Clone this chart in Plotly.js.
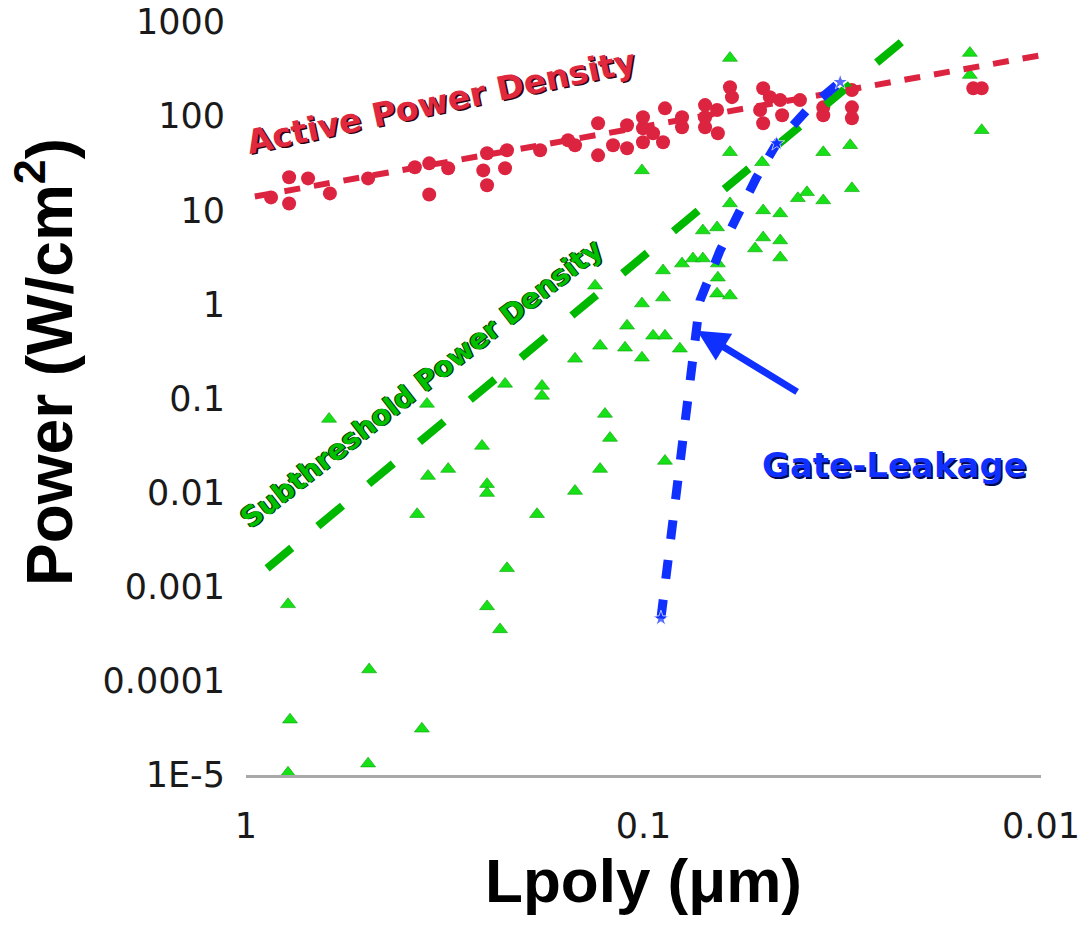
<!DOCTYPE html>
<html>
<head>
<meta charset="utf-8">
<script src="https://cdn.plot.ly/plotly-3.0.1.min.js"></script>
<style>
  html, body { margin: 0; padding: 0; background: #ffffff; }
  #chart { width: 1086px; height: 929px; }
</style>
</head>
<body>
<div id="chart"></div>
<script>
// Active power density measurements (Lpoly in um, power in W/cm^2)
const activeL = [0.865, 0.779, 0.779, 0.698, 0.615, 0.493, 0.376, 0.346, 0.346, 0.310,
  0.2475, 0.2205, 0.253, 0.223, 0.2475, 0.182, 0.1487, 0.1548, 0.1301, 0.1301,
  0.1193, 0.110, 0.110, 0.1003, 0.1003, 0.1003, 0.0946, 0.0893, 0.0883, 0.0800,
  0.0800, 0.0700, 0.0700, 0.0700, 0.0653, 0.0650, 0.0599, 0.0606, 0.0500, 0.0481,
  0.0509, 0.0500, 0.0453, 0.0448, 0.0404, 0.0353, 0.0353, 0.0299, 0.0299, 0.0299,
  0.0148, 0.0141];
const activeP = [13.7, 22.4, 11.8, 21.8, 15.1, 21.8, 28.6, 31.5, 14.7, 27.9,
  40.3, 43.4, 26.5, 27.9, 18.4, 43.4, 49.0, 55.4, 84.0, 38.3,
  49.0, 80.0, 45.5, 97.3, 74.3, 52.7, 65.7, 52.7, 121, 97.3,
  76.2, 131, 97.3, 76.2, 116, 65.7, 159, 203, 198, 159,
  116, 84.0, 148, 102, 148, 124, 102, 189, 124, 95.0,
  198, 198];

// Subthreshold power density measurements
const subL = [0.0606, 0.0151, 0.0151, 0.0141, 0.0302, 0.0353, 0.0606, 0.1009, 0.0503, 0.0299,
  0.0388, 0.0409, 0.0353, 0.0606, 0.0500, 0.0453, 0.0653, 0.0709, 0.0500, 0.0453,
  0.0524, 0.0453, 0.0893, 0.0800, 0.0751, 0.0709, 0.0650, 0.0650, 0.0653, 0.0606,
  0.0893, 0.1009, 0.110, 0.0946, 0.0883, 0.1286, 0.1113, 0.1009, 0.0810, 0.1487,
  0.125, 0.1214, 0.0883, 0.1286, 0.1487, 0.618, 0.3505, 0.223, 0.180, 0.180,
  0.1324, 0.2548, 0.3484, 0.310, 0.2475, 0.2475, 0.371, 0.1853, 0.2205, 0.784,
  0.2475, 0.2296, 0.490, 0.775, 0.361, 0.493, 0.784];
const subP = [414, 468, 273, 70.8, 49.0, 41.3, 41.3, 26.5, 32.3, 17.1,
  15.5, 13.4, 12.7, 11.8, 9.95, 9.25, 6.56, 6.09, 5.13, 4.77,
  3.92, 3.14, 2.29, 2.71, 3.07, 3.07, 2.71, 1.92, 1.30, 1.24,
  1.18, 1.02, 0.593, 0.464, 0.464, 0.363, 0.346, 0.271, 0.338, 0.264,
  0.0685, 0.0380, 0.0217, 0.0178, 0.0104, 0.0606, 0.0876, 0.143, 0.136, 0.1066,
  1.58, 0.0313, 0.0150, 0.0178, 0.0123, 0.00988, 0.0059, 0.0059, 0.00157, 6.5e-4,
  6.18e-4, 3.52e-4, 1.32e-4, 3.87e-5, 3.10e-5, 1.32e-5, 1.055e-5];

// Power-law trend lines
const activeFitL = [0.95, 0.0101];
const activeFitP = [14.0, 440];
const subFitL = [0.885, 0.0195];
const subFitP = [0.00157, 1000];

// Gate-leakage trend
const gateL = [0.0904, 0.0810, 0.0721, 0.0642, 0.0521, 0.0462, 0.0388, 0.0320];
const gateP = [4.6e-4, 0.0165, 1.095, 3.73, 21.8, 51.4, 116, 230];

// Axis ticks
const xTickVals = [1, 0.1, 0.01];
const xTickText = ['1', '0.1', '0.01'];
const yTickVals = [1e-5, 1e-4, 1e-3, 1e-2, 0.1, 1, 10, 100, 1000];
const yTickText = ['1E-5', '0.0001', '0.001', '0.01', '0.1', '1', '10', '100', '1000'];

const RED = '#dc2440';
const GREEN_PT = '#16e016';
const GREEN_LN = '#00b800';
const BLUE = '#1030ff';

const traces = [
  {
    x: subL, y: subP, type: 'scatter', mode: 'markers',
    marker: { symbol: 'triangle-up', size: 13, color: GREEN_PT,
              line: { color: '#0aa00a', width: 0.6 } },
    hoverinfo: 'x+y'
  },
  {
    x: activeL, y: activeP, type: 'scatter', mode: 'markers',
    marker: { symbol: 'circle', size: 14, color: RED, line: { width: 0 } },
    hoverinfo: 'x+y'
  },
  {
    x: subFitL, y: subFitP, type: 'scatter', mode: 'lines',
    line: { color: GREEN_LN, width: 8, dash: '32px,34px' },
    hoverinfo: 'skip'
  },
  {
    x: activeFitL, y: activeFitP, type: 'scatter', mode: 'lines',
    line: { color: RED, width: 6, dash: '16px,14px' },
    hoverinfo: 'skip'
  },
  {
    x: gateL, y: gateP, type: 'scatter', mode: 'lines+markers',
    line: { color: BLUE, width: 9, dash: '19px,21px' },
    marker: { symbol: 'star', color: BLUE, size: [12, 0, 0, 0, 0, 12, 0, 12] },
    hoverinfo: 'x+y'
  }
];

const tickFont = { family: 'DejaVu Sans, sans-serif', size: 35, color: '#1a1a1a' };
const labelFamily = 'DejaVu Sans, sans-serif';
const boldFamily = 'Liberation Sans, Arial, sans-serif';

const layout = {
  width: 1086,
  height: 929,
  margin: { l: 246, r: 45, t: 22, b: 154 },
  paper_bgcolor: '#ffffff',
  plot_bgcolor: '#ffffff',
  showlegend: false,
  xaxis: {
    type: 'log',
    range: [0, -2],
    tickvals: xTickVals,
    ticktext: xTickText,
    ticks: '',
    ticklabelstandoff: 18,
    tickfont: tickFont,
    showgrid: false,
    zeroline: false,
    showline: true,
    linecolor: '#a8a8a8',
    linewidth: 3,
    title: { text: 'Lpoly (\u03bcm)', font: { family: boldFamily, size: 62, color: '#000', weight: 'bold' }, standoff: 0 }
  },
  yaxis: {
    type: 'log',
    range: [-5, 3],
    tickvals: yTickVals,
    ticktext: yTickText,
    ticks: '',
    ticklabelstandoff: 20,
    tickfont: tickFont,
    showgrid: false,
    zeroline: false,
    showline: false
  },
  annotations: [
    {
      xref: 'paper', yref: 'paper', x: -0.252, y: 0.548,
      xanchor: 'center', yanchor: 'middle',
      text: 'Power (W/cm<sup>2</sup>)', showarrow: false, textangle: -90,
      font: { family: boldFamily, size: 64, color: '#000', weight: 'bold' }
    },
    {
      xref: 'paper', yref: 'paper', x: 0.2453, y: 0.8938,
      xanchor: 'center', yanchor: 'middle',
      text: 'Active Power Density', showarrow: false, textangle: -12,
      font: { family: labelFamily, size: 33, color: '#e0283e', weight: 'bold',
              shadow: '1.5px 1.5px 0px #2a0010' }
    },
    {
      xref: 'paper', yref: 'paper', x: 0.2214, y: 0.5193,
      xanchor: 'center', yanchor: 'middle',
      text: 'Subthreshold Power Density', showarrow: false, textangle: -38,
      font: { family: labelFamily, size: 28, color: '#00c000', weight: 'bold',
              shadow: '1px 1px 0px #002800, -1px -1px 0px #004000' }
    },
    {
      xref: 'paper', yref: 'paper', x: 0.8151, y: 0.4117,
      xanchor: 'center', yanchor: 'middle',
      text: 'Gate-Leakage', showarrow: false,
      font: { family: labelFamily, size: 34, color: BLUE, weight: 'bold',
              shadow: '1.5px 1.5px 0px #000850' }
    },
    {
      xref: 'x', yref: 'y', x: Math.log10(0.0733), y: Math.log10(0.525),
      text: ' ', showarrow: true, ax: 103, ay: 63,
      arrowcolor: BLUE, arrowwidth: 7, arrowhead: 2, arrowsize: 0.9
    }
  ]
};

Plotly.newPlot('chart', traces, layout, { staticPlot: true, displayModeBar: false });
</script>
</body>
</html>
